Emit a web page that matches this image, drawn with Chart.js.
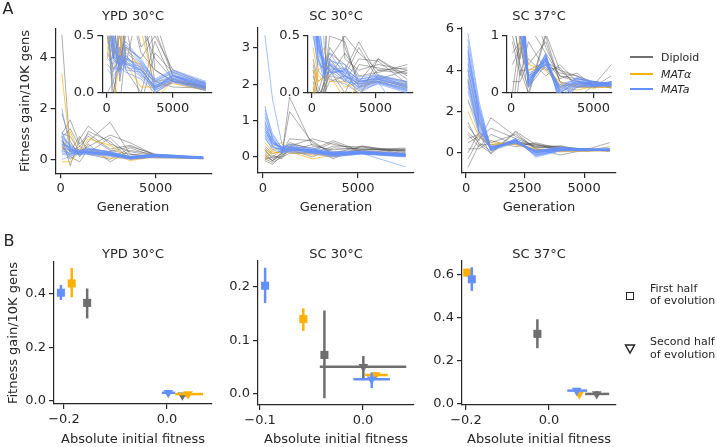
<!DOCTYPE html>
<html>
<head>
<meta charset="utf-8">
<script src="https://cdn.jsdelivr.net/npm/chart.js@4.4.1/dist/chart.umd.min.js"></script>
<style>
  body { margin: 0; background: #fff; }
  #wrap { position: relative; width: 717px; height: 447px; overflow: hidden; background: #fff;
          font-family: 'DejaVu Sans', sans-serif; color: #262626; }
  canvas { position: absolute; left: 0; top: 0; }
  .t { position: absolute; white-space: nowrap; line-height: 1; font-size: 13px; transform: translate(-50%, -50%); }
  .rot { transform: translate(-50%, -50%) rotate(-90deg); }
  .lt { position: absolute; white-space: nowrap; line-height: 1; font-size: 11px; transform: translateY(-50%); }
  .sw { position: absolute; width: 23px; height: 2px; }
  .letter { position: absolute; font-size: 16px; line-height: 1; transform: translate(-50%, -50%); }
</style>
</head>
<body>
<div id="wrap">
  <canvas id="a1" width="717" height="447"></canvas>
  <canvas id="a1in" width="717" height="447"></canvas>
  <canvas id="a2" width="717" height="447"></canvas>
  <canvas id="a2in" width="717" height="447"></canvas>
  <canvas id="a3" width="717" height="447"></canvas>
  <canvas id="a3in" width="717" height="447"></canvas>
  <canvas id="b1" width="717" height="447"></canvas>
  <canvas id="b2" width="717" height="447"></canvas>
  <canvas id="b3" width="717" height="447"></canvas>

  <div class="letter" style="left:8px;top:9px">A</div>
  <div class="letter" style="left:9px;top:241px">B</div>

  <div class="t" style="left:133px;top:15px">YPD 30°C</div>
  <div class="t" style="left:336px;top:15px">SC 30°C</div>
  <div class="t" style="left:539px;top:15px">SC 37°C</div>
  <div class="t" style="left:133px;top:253px">YPD 30°C</div>
  <div class="t" style="left:336px;top:253px">SC 30°C</div>
  <div class="t" style="left:539px;top:253px">SC 37°C</div>

  <div class="t rot" style="left:24px;top:101px">Fitness gain/10K gens</div>
  <div class="t rot" style="left:12px;top:333px">Fitness gain/10K gens</div>

  <div class="t" style="left:133px;top:206px">Generation</div>
  <div class="t" style="left:336px;top:206px">Generation</div>
  <div class="t" style="left:539px;top:206px">Generation</div>
  <div class="t" style="left:133px;top:438px">Absolute initial fitness</div>
  <div class="t" style="left:336px;top:438px">Absolute initial fitness</div>
  <div class="t" style="left:539px;top:438px">Absolute initial fitness</div>

  <div class="sw" style="left:630px;top:56px;background:#707070"></div>
  <div class="lt" style="left:661px;top:57px">Diploid</div>
  <div class="sw" style="left:630px;top:73px;background:#FFB000"></div>
  <div class="lt" style="left:661px;top:74px"><i>MATα</i></div>
  <div class="sw" style="left:630px;top:88px;background:#648FFF"></div>
  <div class="lt" style="left:661px;top:89px"><i>MATa</i></div>

  <div style="position:absolute;left:626px;top:292px;width:6px;height:6px;border:1.5px solid #262626"></div>
  <div class="lt" style="left:650px;top:288px">First half</div>
  <div class="lt" style="left:650px;top:300px">of evolution</div>
  <svg style="position:absolute;left:624px;top:343px" width="12" height="12">
    <polygon points="1.5,2 10.5,2 6,10" fill="none" stroke="#262626" stroke-width="1.5"/>
  </svg>
  <div class="lt" style="left:650px;top:341px">Second half</div>
  <div class="lt" style="left:650px;top:354px">of evolution</div>
</div>

<script>
// ---- Panel A: fitness gain trajectories (Diploid, MATα, MATa) ----
const ypdGens = [60, 500, 1000, 1450, 2600, 3650, 5000, 7500];
const ypdDiploid = [
  [4.9, 0.3, 0.5, 0.9, 0.35, 0.2, 0.1, 0.05],
  [1.0, 1.55, 0.6, 1.0, 0.4, 0.55, 0.15, 0.05],
  [0.9, -0.25, 0.8, 1.3, 0.6, 0.3, 0.12, 0.04],
  [0.7, 0.4, 0.2, 0.7, 1.45, 0.2, 0.1, 0.06],
  [1.0, 0.9, 0.3, 0.5, 0.95, 0.65, 0.15, 0.03],
  [0.6, 0.1, -0.1, 0.4, 0.3, 0.5, 0.2, 0.08],
  [0.85, 1.2, 0.5, 0.2, 0.0, 0.45, 0.1, 0.05],
  [0.5, 0.0, 0.3, 1.1, 0.7, 0.0, 0.1, 0.02],
  [1.8, 0.7, 0.1, 0.6, -0.1, 0.35, 0.18, 0.07],
  [0.75, 0.3, 0.9, 0.25, 0.85, 0.1, 0.05, 0.04]
];
const ypdMATalpha = [
  [3.35, 0.4, 0.3, 0.8, 0.55, 0.05, 0.1, 0.03],
  [0.3, 1.1, 0.2, 0.4, 0.2, 0.1, 0.12, 0.05],
  [-0.1, -0.1, 0.3, 0.3, 0.25, -0.05, 0.1, 0.04],
  [0.5, 0.2, 0.4, 0.25, 0.05, 0.05, 0.08, 0.02]
];
const ypdMATa = [
  [2.0, 0.4, 0.3, 0.25, 0.2, 0.05, 0.15, 0.05],
  [0.9, 0.5, 0.35, 0.4, 0.3, 0.1, 0.17, 0.06],
  [0.7, 0.3, 0.25, 0.3, 0.22, 0.03, 0.12, 0.04],
  [0.6, 0.45, 0.2, 0.35, 0.25, 0.08, 0.14, 0.08],
  [0.5, 0.2, 0.3, 0.2, 0.18, 0.02, 0.1, 0.03],
  [0.4, 0.35, 0.15, 0.28, 0.15, 0.06, 0.13, 0.07],
  [0.3, 0.25, 0.4, 0.22, 0.2, 0.04, 0.16, 0.05],
  [0.8, 0.6, 0.28, 0.45, 0.28, 0.12, 0.2, 0.1],
  [0.2, 0.15, 0.22, 0.18, 0.12, 0.0, 0.09, 0.02],
  [1.1, 0.3, 0.32, 0.3, 0.24, 0.07, 0.11, 0.04],
  [0.55, 0.5, 0.18, 0.33, 0.17, 0.03, 0.15, 0.09],
  [0.0, 0.1, 0.27, 0.25, 0.21, 0.05, 0.12, 0.06],
  [0.65, 0.28, 0.24, 0.32, 0.19, 0.06, 0.13, 0.05],
  [0.45, 0.38, 0.3, 0.26, 0.23, 0.09, 0.15, 0.07],
  [0.35, 0.22, 0.2, 0.3, 0.16, 0.04, 0.11, 0.03],
  [0.75, 0.42, 0.26, 0.38, 0.26, 0.1, 0.18, 0.08],
  [0.25, 0.18, 0.33, 0.24, 0.14, 0.02, 0.1, 0.04],
  [0.95, 0.55, 0.23, 0.42, 0.27, 0.11, 0.19, 0.09]
];

const sc30Gens = [100, 500, 1000, 1400, 2600, 3700, 5200, 7500];
const sc30Diploid = [
  [0.1, -0.1, 0.05, 1.65, 0.3, 0.2, 0.25, 0.2],
  [0.2, -0.05, 0.1, 1.25, 0.4, 0.1, 0.3, 0.15],
  [-0.05, -0.15, 0.0, 0.3, 0.5, 0.35, 0.2, 0.22],
  [0.3, 0.1, 0.15, 0.4, 0.2, 0.45, 0.15, 0.1],
  [0.0, -0.1, 0.1, 0.2, 0.0, 0.25, 0.22, 0.18],
  [0.15, 0.0, 0.2, 0.35, 0.25, -0.05, 0.3, 0.12],
  [-0.1, -0.2, 0.05, 0.15, 0.35, 0.15, 0.18, 0.25],
  [0.25, 0.05, -0.05, 0.25, 0.1, 0.3, 0.28, 0.08],
  [0.05, -0.1, 0.12, 0.5, 0.45, 0.05, 0.2, 0.17],
  [-0.05, 0.0, 0.0, 0.1, 0.15, 0.4, 0.12, 0.2]
];
const sc30MATalpha = [
  [0.0, 0.3, 0.4, 0.2, 0.05, 0.1, 0.12, 0.05],
  [0.2, 0.1, 0.15, 0.15, -0.05, 0.05, 0.1, 0.08],
  [-0.1, 0.2, 0.25, 0.1, 0.1, 0.0, 0.15, 0.06],
  [0.4, 0.15, 0.1, 0.3, 0.15, 0.08, 0.1, 0.04]
];
const sc30MATa = [
  [3.35, 1.6, 0.35, 0.25, 0.15, 0.1, 0.1, -0.27],
  [1.4, 0.5, 0.2, 0.25, 0.15, 0.05, 0.12, 0.05],
  [1.0, 0.4, 0.15, 0.2, 0.1, 0.08, 0.1, 0.02],
  [0.9, 0.6, 0.25, 0.3, 0.2, 0.12, 0.15, 0.08],
  [0.8, 0.3, 0.1, 0.15, 0.12, 0.02, 0.08, 0.0],
  [0.7, 0.45, 0.2, 0.22, 0.18, 0.1, 0.13, 0.06],
  [0.6, 0.35, 0.3, 0.18, 0.2, 0.06, 0.11, 0.03],
  [0.75, 0.5, 0.15, 0.28, 0.25, 0.14, 0.16, 0.1],
  [0.5, 0.25, 0.22, 0.12, 0.08, 0.0, 0.09, 0.01],
  [1.1, 0.55, 0.18, 0.24, 0.14, 0.09, 0.14, 0.07],
  [0.65, 0.4, 0.25, 0.35, 0.16, 0.04, 0.1, 0.04],
  [0.55, 0.2, 0.12, 0.2, 0.22, 0.11, 0.12, 0.05],
  [0.85, 0.42, 0.18, 0.26, 0.17, 0.07, 0.12, 0.05],
  [1.2, 0.48, 0.22, 0.21, 0.13, 0.05, 0.1, 0.03],
  [0.95, 0.32, 0.14, 0.18, 0.19, 0.1, 0.14, 0.07],
  [0.7, 0.38, 0.28, 0.3, 0.12, 0.03, 0.09, 0.02],
  [0.6, 0.28, 0.2, 0.16, 0.21, 0.12, 0.15, 0.09],
  [1.3, 0.65, 0.24, 0.27, 0.15, 0.08, 0.13, 0.06]
];

const sc37Gens = [80, 550, 1050, 2100, 2950, 4000, 5050, 6080];
const sc37Diploid = [
  [1.3, 0.6, 1.7, 0.8, 0.3, 0.2, 0.15, 0.5],
  [-0.7, 0.4, 0.0, 1.05, 0.4, 0.15, 0.2, 0.1],
  [0.5, 0.8, 0.3, 0.6, 0.25, 0.35, 0.1, 0.2],
  [0.9, 0.3, 0.9, 0.4, 0.45, 0.1, 0.2, 0.15],
  [0.0, 1.0, 0.5, 0.9, 0.2, -0.1, 0.15, 0.2],
  [1.0, 0.5, 0.1, 0.5, 0.35, 0.3, 0.1, 0.1],
  [-0.3, 0.7, 1.2, 0.7, 0.3, 0.25, 0.2, 0.15],
  [0.2, 0.2, 0.6, 0.3, 0.5, 0.2, 0.12, 0.3],
  [0.7, 0.9, -0.05, 1.0, 0.2, 0.1, 0.15, 0.12],
  [1.5, 0.4, 0.4, 0.55, 0.4, 0.3, 0.18, 0.08]
];
const sc37MATalpha = [
  [2.5, 1.4, 0.3, 0.5, 0.15, 0.1, 0.1, 0.15],
  [3.5, 1.0, 0.2, 0.6, 0.1, 0.05, 0.12, 0.12],
  [2.0, 0.8, 0.4, 0.45, 0.2, 0.12, 0.08, 0.18],
  [4.0, 1.6, 0.5, 0.4, 0.12, 0.15, 0.1, 0.1]
];
const sc37MATa = [
  [5.8, 2.5, 0.2, 0.65, 0.0, 0.2, 0.15, 0.15],
  [5.2, 2.0, 0.15, 0.6, -0.1, 0.15, 0.12, 0.18],
  [4.6, 1.8, 0.25, 0.55, 0.05, 0.25, 0.18, 0.12],
  [4.0, 1.5, 0.1, 0.7, -0.15, 0.12, 0.1, 0.16],
  [3.5, 1.2, 0.3, 0.5, 0.1, 0.18, 0.14, 0.2],
  [3.0, 1.0, 0.2, 0.62, 0.0, 0.22, 0.16, 0.14],
  [4.3, 2.2, 0.12, 0.58, -0.05, 0.16, 0.13, 0.11],
  [3.8, 1.4, 0.28, 0.45, 0.08, 0.28, 0.2, 0.17],
  [5.0, 1.7, 0.18, 0.68, -0.2, 0.1, 0.11, 0.13],
  [2.6, 0.9, 0.22, 0.52, 0.12, 0.2, 0.17, 0.19],
  [4.8, 1.9, 0.15, 0.6, 0.02, 0.14, 0.15, 0.15],
  [3.2, 1.1, 0.35, 0.48, 0.15, 0.24, 0.19, 0.16],
  [5.5, 2.3, 0.22, 0.63, 0.04, 0.18, 0.14, 0.14],
  [4.4, 1.6, 0.14, 0.57, -0.08, 0.13, 0.12, 0.17],
  [3.6, 1.3, 0.26, 0.53, 0.06, 0.21, 0.16, 0.13],
  [4.9, 2.1, 0.19, 0.66, -0.12, 0.11, 0.13, 0.15],
  [3.4, 1.05, 0.3, 0.5, 0.1, 0.26, 0.18, 0.18],
  [4.1, 1.55, 0.17, 0.61, 0.0, 0.17, 0.15, 0.16]
];

// ---- Panel B: gain vs initial fitness, order = [Diploid, MATα, MATa] ----
const ypdFirstX = [-0.155, -0.185, -0.206];
const ypdFirstY = [0.367, 0.44, 0.405];
const ypdFirstYErr = [[0.309, 0.421], [0.388, 0.498], [0.378, 0.434]];
const ypdFirstXErr = [[-0.157, -0.153], [-0.187, -0.183], [-0.209, -0.203]];
const ypdSecondX = [0.030, 0.041, 0.0025];
const ypdSecondY = [0.022, 0.026, 0.031];
const ypdSecondYErr = [[0.015, 0.030], [0.020, 0.032], [0.025, 0.037]];
const ypdSecondXErr = [[0.026, 0.042], [0.016, 0.070], [-0.010, 0.016]];

const sc30FirstX = [-0.0375, -0.058, -0.0951];
const sc30FirstY = [0.073, 0.140, 0.2025];
const sc30FirstYErr = [[-0.008, 0.156], [0.118, 0.160], [0.170, 0.236]];
const sc30FirstXErr = [[-0.0385, -0.0365], [-0.059, -0.057], [-0.096, -0.094]];
const sc30SecondX = [0.0003, 0.0123, 0.0084];
const sc30SecondY = [0.051, 0.0355, 0.0275];
const sc30SecondYErr = [[0.027, 0.071], [0.030, 0.041], [0.011, 0.040]];
const sc30SecondXErr = [[-0.042, 0.042], [0.002, 0.024], [-0.0094, 0.0262]];

const sc37FirstX = [-0.028, -0.197, -0.186];
const sc37FirstY = [0.326, 0.611, 0.580];
const sc37FirstYErr = [[0.259, 0.394], [0.600, 0.622], [0.526, 0.636]];
const sc37FirstXErr = [[-0.029, -0.027], [-0.203, -0.190], [-0.190, -0.182]];
const sc37SecondX = [0.115, 0.073, 0.0667];
const sc37SecondY = [0.0465, 0.0465, 0.062];
const sc37SecondYErr = [[0.035, 0.060], [0.035, 0.060], [0.050, 0.072]];
const sc37SecondXErr = [[0.087, 0.145], [0.068, 0.078], [0.044, 0.092]];

// ---- axis ticks ----
const ypdYTicks = [0, 2, 4];
const sc30YTicks = [0, 1, 2, 3];
const sc37YTicks = [0, 2, 4, 6];
const genTicks = [0, 5000];
const sc37GenTicks = [0, 2500, 5000];
const insetYTicks = [0, 0.5];
const sc37InsetYTicks = [0, 1];
const ypdBYTicks = [0, 0.2, 0.4];
const sc30BYTicks = [0, 0.1, 0.2];
const sc37BYTicks = [0, 0.2, 0.4, 0.6];
const ypdBXTicks = [-0.2, 0.0];
const sc30BXTicks = [-0.1, 0.0];
const sc37BXTicks = [-0.2, 0.0];

const W = 717, H = 447;
const ink = '#262626';
const groupColors = ['#6e6e6e', '#FFB000', '#648FFF'];
const lineColors = ['rgba(85,85,85,0.6)', 'rgba(255,176,0,0.75)', 'rgba(100,143,255,0.65)'];
const lineWidths = [0.8, 0.9, 0.9];

Chart.defaults.font.family = "'DejaVu Sans', sans-serif";
Chart.defaults.font.size = 13;
Chart.defaults.color = ink;

function fmt(v, dec) {
  return v.toFixed(dec).replace('-', '\u2212');
}

function axis(min, max, ticks, dec) {
  return {
    type: 'linear', min: min, max: max,
    afterBuildTicks: s => { s.ticks = ticks.map(v => ({ value: v })); },
    ticks: { callback: v => fmt(v, dec), padding: 3, maxRotation: 0, autoSkip: false, color: ink },
    grid: { drawOnChartArea: false, drawTicks: true, tickLength: 5, color: ink, lineWidth: 1.2 },
    border: { display: true, color: ink, width: 1.2 }
  };
}

function panel(id, area, xAxis, yAxis, datasets) {
  const yw = 40, xh = 30;
  xAxis.afterFit = s => { s.height = xh; };
  yAxis.afterFit = s => { s.width = yw; };
  new Chart(document.getElementById(id), {
    type: 'scatter',
    data: { datasets: datasets },
    options: {
      responsive: false,
      animation: false,
      events: [],
      layout: { padding: { left: area.l - yw, top: area.t, right: W - area.r, bottom: H - area.b - xh } },
      plugins: { legend: { display: false }, tooltip: { enabled: false } },
      scales: { x: xAxis, y: yAxis }
    }
  });
}

function trajectories(gens, groups) {
  const sets = [];
  groups.forEach((lines, g) => {
    lines.forEach(vals => {
      sets.push({
        data: gens.map((x, i) => ({ x: x, y: vals[i] })),
        showLine: true, pointRadius: 0, borderWidth: lineWidths[g], tension: 0,
        borderColor: lineColors[g], order: 2 - g
      });
    });
  });
  return sets;
}

function summary(first, second) {
  const sets = [];
  [first, second].forEach((s, half) => {
    for (let g = 0; g < 3; g++) {
      const base = (2 - g) * 4;
      sets.push({
        data: [{ x: s.xe[g][0], y: s.y[g] }, { x: s.xe[g][1], y: s.y[g] }],
        showLine: true, pointRadius: 0, borderWidth: 2.5, borderColor: groupColors[g], order: base + 2
      });
      sets.push({
        data: [{ x: s.x[g], y: s.ye[g][0] }, { x: s.x[g], y: s.ye[g][1] }],
        showLine: true, pointRadius: 0, borderWidth: 2.5, borderColor: groupColors[g], order: base + 2
      });
      sets.push({
        data: [{ x: s.x[g], y: s.y[g] }],
        pointStyle: half === 0 ? 'rect' : 'triangle',
        rotation: half === 0 ? 0 : 180,
        pointRadius: half === 0 ? 5.7 : 5.6,
        backgroundColor: groupColors[g], borderWidth: 0, order: base
      });
    }
  });
  return sets;
}

// main trajectory panels and insets
panel('a1', { l: 55.7, t: 28.3, r: 211.7, b: 173.3 },
  axis(-263, 7950, genTicks, 0), axis(-0.55, 5.14, ypdYTicks, 0),
  trajectories(ypdGens, [ypdDiploid, ypdMATalpha, ypdMATa]));
panel('a1in', { l: 102.3, t: 35.7, r: 211.7, b: 92.7 },
  axis(-330, 7950, genTicks, 0), axis(0, 0.5, insetYTicks, 1),
  trajectories(ypdGens, [ypdDiploid, ypdMATalpha, ypdMATa]));

panel('a2', { l: 258, t: 28, r: 414, b: 173 },
  axis(-263, 7950, genTicks, 0), axis(-0.44, 3.55, sc30YTicks, 0),
  trajectories(sc30Gens, [sc30Diploid, sc30MATalpha, sc30MATa]));
panel('a2in', { l: 308, t: 36, r: 413, b: 93 },
  axis(-300, 7950, genTicks, 0), axis(0, 0.5, insetYTicks, 1),
  trajectories(sc30Gens, [sc30Diploid, sc30MATalpha, sc30MATa]));

panel('a3', { l: 462, t: 28, r: 616, b: 173 },
  axis(-170, 6350, sc37GenTicks, 0), axis(-0.97, 6.05, sc37YTicks, 0),
  trajectories(sc37Gens, [sc37Diploid, sc37MATalpha, sc37MATa]));
panel('a3in', { l: 507, t: 36, r: 612, b: 93 },
  axis(-250, 6120, genTicks, 0), axis(0, 1, sc37InsetYTicks, 0),
  trajectories(sc37Gens, [sc37Diploid, sc37MATalpha, sc37MATa]));

// summary panels
panel('b1', { l: 54, t: 262, r: 212, b: 404 },
  axis(-0.2194, 0.0874, ypdBXTicks, 1), axis(-0.011, 0.52, ypdBYTicks, 1),
  summary({ x: ypdFirstX, y: ypdFirstY, xe: ypdFirstXErr, ye: ypdFirstYErr },
          { x: ypdSecondX, y: ypdSecondY, xe: ypdSecondXErr, ye: ypdSecondYErr }));
panel('b2', { l: 258, t: 261, r: 414, b: 405 },
  axis(-0.102, 0.0495, sc30BXTicks, 1), axis(-0.0206, 0.2486, sc30BYTicks, 1),
  summary({ x: sc30FirstX, y: sc30FirstY, xe: sc30FirstXErr, ye: sc30FirstYErr },
          { x: sc30SecondX, y: sc30SecondY, xe: sc30SecondXErr, ye: sc30SecondYErr }));
panel('b3', { l: 462, t: 261, r: 616, b: 405 },
  axis(-0.2096, 0.1614, sc37BXTicks, 1), axis(-0.005, 0.665, sc37BYTicks, 1),
  summary({ x: sc37FirstX, y: sc37FirstY, xe: sc37FirstXErr, ye: sc37FirstYErr },
          { x: sc37SecondX, y: sc37SecondY, xe: sc37SecondXErr, ye: sc37SecondYErr }));
</script>
</body>
</html>
